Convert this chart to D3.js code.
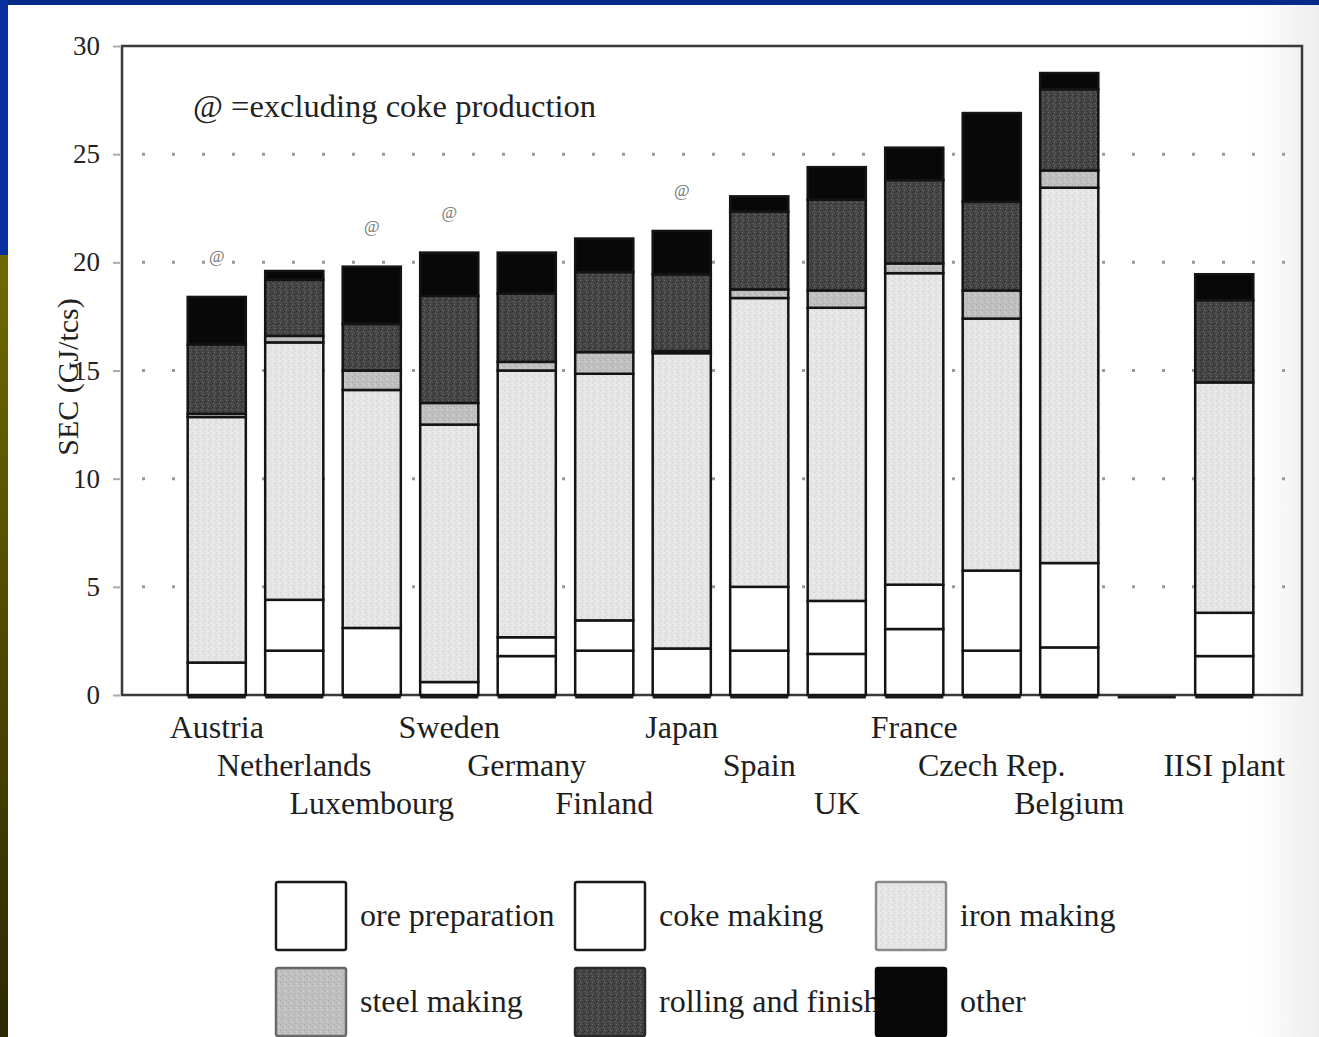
<!DOCTYPE html>
<html>
<head>
<meta charset="utf-8">
<script src="https://cdn.jsdelivr.net/npm/d3@7/dist/d3.min.js"></script>
<style>
  html, body { margin: 0; padding: 0; background: #ffffff; }
  svg { display: block; }
  text { font-family: "Liberation Serif", "DejaVu Serif", serif; }
</style>
</head>
<body>
<svg id="chart" width="1319" height="1037"></svg>
<script>
// Specific energy consumption per tonne of crude steel, by process stage (GJ/tcs)
const categories = ["Austria", "Netherlands", "Luxembourg", "Sweden", "Germany", "Finland",
  "Japan", "Spain", "UK", "France", "Czech Rep.", "Belgium", "", "IISI plant"];

const orePreparation   = [1.5, 2.05, 3.1, 0.6, 1.8, 2.05, 2.15, 2.05, 1.9, 3.05, 2.05, 2.2, 0, 1.8];
const cokeMaking       = [0, 2.35, 0, 0, 0.87, 1.4, 0, 2.95, 2.45, 2.05, 3.7, 3.9, 0, 2.0];
const ironMaking       = [11.35, 11.9, 11.0, 11.9, 12.33, 11.4, 13.65, 13.35, 13.55, 14.4, 11.65, 17.35, 0, 10.65];
const steelMaking      = [0.15, 0.3, 0.9, 1.0, 0.4, 1.0, 0.1, 0.4, 0.8, 0.45, 1.3, 0.8, 0, 0];
const rollingFinishing = [3.2, 2.6, 2.15, 4.95, 3.15, 3.7, 3.55, 3.6, 4.2, 3.85, 4.1, 3.75, 0, 3.8];
const otherUse         = [2.2, 0.4, 2.65, 2.0, 1.9, 1.55, 2.0, 0.7, 1.5, 1.5, 4.1, 0.75, 0, 1.2];

// Plants whose figure leaves out coke production
const excludesCoke = ["Austria", "Luxembourg", "Sweden", "Japan"];

const seriesNames = ["ore preparation", "coke making", "iron making",
  "steel making", "rolling and finishing", "other"];
const seriesKeys = ["ore", "coke", "iron", "steel", "rolling", "other"];
const yTicks = [0, 5, 10, 15, 20, 25, 30];
const gridTicks = [5, 10, 15, 20, 25];

const rows = categories.map((c, i) => ({
  idx: i, name: c,
  ore: orePreparation[i], coke: cokeMaking[i], iron: ironMaking[i],
  steel: steelMaking[i], rolling: rollingFinishing[i], other: otherUse[i]
}));

const svg = d3.select("#chart");
const W = 1319, H = 1037;

// ---- slide frame ----
const defs = svg.append("defs");
const olive = defs.append("linearGradient").attr("id", "oliveStrip")
  .attr("x1", 0).attr("y1", 0).attr("x2", 0).attr("y2", 1);
olive.append("stop").attr("offset", "0%").attr("stop-color", "#6f6a00");
olive.append("stop").attr("offset", "100%").attr("stop-color", "#2c2800");

const haze = defs.append("linearGradient").attr("id", "edgeHaze")
  .attr("x1", 0).attr("y1", 0).attr("x2", 1).attr("y2", 0);
haze.append("stop").attr("offset", "0%").attr("stop-color", "#e6e6e6").attr("stop-opacity", 0);
haze.append("stop").attr("offset", "100%").attr("stop-color", "#e2e2e2").attr("stop-opacity", 0.6);

// textures for the shaded stages
function texture(id, base, dots) {
  const p = defs.append("pattern").attr("id", id).attr("patternUnits", "userSpaceOnUse")
    .attr("width", 6).attr("height", 6);
  p.append("rect").attr("width", 6).attr("height", 6).attr("fill", base);
  dots.forEach(d => p.append("rect").attr("x", d[0]).attr("y", d[1])
    .attr("width", d[2] || 1).attr("height", d[3] || 1).attr("fill", d[4]));
}
texture("ironTex", "#e6e6e6", [[0,0,1,1,"#d0d0d0"],[3,1,1,1,"#f5f5f5"],[1,3,1,1,"#d6d6d6"],[4,4,1,1,"#cdcdcd"],[2,5,1,1,"#f2f2f2"],[5,2,1,1,"#d8d8d8"]]);
texture("steelTex", "#c0c0c0", [[0,0,1,1,"#a6a6a6"],[3,1,1,1,"#d6d6d6"],[1,3,1,1,"#acacac"],[4,4,1,1,"#a2a2a2"],[2,5,1,1,"#d2d2d2"]]);
texture("rollTex", "#464646", [[0,0,1,1,"#262626"],[3,1,1,1,"#666666"],[1,3,1,1,"#2e2e2e"],[4,4,1,1,"#707070"],[2,5,1,1,"#242424"],[5,2,1,1,"#585858"]]);

svg.append("rect").attr("width", W).attr("height", H).attr("fill", "#ffffff");
svg.append("rect").attr("x", 1250).attr("y", 0).attr("width", W - 1250).attr("height", H).attr("fill", "url(#edgeHaze)");
svg.append("rect").attr("x", 0).attr("y", 0).attr("width", W).attr("height", 5).attr("fill", "#062a88");
svg.append("rect").attr("x", 0).attr("y", 0).attr("width", 8).attr("height", 255).attr("fill", "#0830a0");
svg.append("rect").attr("x", 0).attr("y", 255).attr("width", 8).attr("height", H - 255).attr("fill", "url(#oliveStrip)");

// ---- scales ----
const plot = { left: 122, top: 46, right: 1302, bottom: 695 };
const y = d3.scaleLinear().domain([0, 30]).range([plot.bottom, plot.top]);
const x = d3.scaleBand().domain(rows.map(r => r.idx)).range([178, 1263])
  .paddingInner(0.25).paddingOuter(0.125);

const fills = {
  ore: "#ffffff", coke: "#ffffff", iron: "url(#ironTex)",
  steel: "url(#steelTex)", rolling: "url(#rollTex)", other: "#080808"
};

// dotted grid lines
svg.append("g").selectAll("line").data(gridTicks).join("line")
  .attr("x1", plot.left + 20).attr("x2", plot.right - 4)
  .attr("y1", d => y(d)).attr("y2", d => y(d))
  .attr("stroke", "#9a9a9a").attr("stroke-width", 3)
  .attr("stroke-dasharray", "3,27");

// plot frame
svg.append("rect").attr("x", plot.left).attr("y", plot.top)
  .attr("width", plot.right - plot.left).attr("height", plot.bottom - plot.top)
  .attr("fill", "none").attr("stroke", "#3a3a3a").attr("stroke-width", 2.5);

// y axis
const yAxis = d3.axisLeft(y).tickValues(yTicks).tickSize(7).tickPadding(13);
const ax = svg.append("g").attr("transform", `translate(${plot.left - 2},0)`).call(yAxis);
ax.select(".domain").remove();
ax.selectAll(".tick line").attr("stroke", "#aaaaaa").attr("stroke-width", 2);
ax.selectAll(".tick text").attr("font-family", "Liberation Serif, serif")
  .attr("font-size", 27).attr("fill", "#222222");

svg.append("text")
  .attr("transform", "translate(78,377) rotate(-90)")
  .attr("text-anchor", "middle").attr("font-size", 30).attr("fill", "#222222")
  .text("SEC (GJ/tcs)");

// ---- stacked bars ----
const stack = d3.stack().keys(seriesKeys);
const stacked = stack(rows);

const barG = svg.append("g");
stacked.forEach(layer => {
  barG.append("g").selectAll("rect")
    .data(layer.filter(d => d[1] - d[0] > 0))
    .join("rect")
    .attr("x", d => x(d.data.idx))
    .attr("width", x.bandwidth())
    .attr("y", d => y(d[1]))
    .attr("height", d => y(d[0]) - y(d[1]))
    .attr("fill", fills[layer.key])
    .attr("stroke", "#141414").attr("stroke-width", 2.5);
});

// base strokes for every slot (including the empty one)
svg.append("g").selectAll("line").data(rows).join("line")
  .attr("x1", d => x(d.idx)).attr("x2", d => x(d.idx) + x.bandwidth())
  .attr("y1", y(0) + 2).attr("y2", y(0) + 2)
  .attr("stroke", "#1a1a1a").attr("stroke-width", 3);

// "@" marks above the plants excluding coke production
const totals = rows.map(r => seriesKeys.reduce((s, k) => s + r[k], 0));
svg.append("g").selectAll("text")
  .data(rows.filter(r => excludesCoke.includes(r.name)))
  .join("text")
  .attr("x", d => x(d.idx) + x.bandwidth() / 2)
  .attr("y", d => y(totals[d.idx]) - 35)
  .attr("text-anchor", "middle").attr("font-size", 17).attr("fill", "#777777")
  .text("@");

svg.append("text").attr("x", 193).attr("y", 117)
  .attr("font-size", 32.5).attr("fill", "#222222")
  .text("@ =excluding coke production");

// category labels, staggered over three rows
const rowBase = [738, 776, 814];
svg.append("g").selectAll("text").data(rows).join("text")
  .attr("x", d => x(d.idx) + x.bandwidth() / 2)
  .attr("y", d => rowBase[d.idx % 3])
  .attr("text-anchor", "middle").attr("font-size", 32).attr("fill", "#1e1e1e")
  .text(d => d.name);

// ---- legend ----
const legX = [276, 575, 876];
const legY = [882, 968];
const swStroke = ["#1a1a1a", "#1a1a1a", "#8a8a8a", "#6a6a6a", "#2a2a2a", "#080808"];
const legend = svg.append("g");
const items = seriesKeys.map((k, i) => ({ key: k, name: seriesNames[i], col: i % 3, row: Math.floor(i / 3), i }));
// labels first so that a neighbouring swatch sits on top of long text
legend.selectAll("text").data(items).join("text")
  .attr("x", d => legX[d.col] + 84)
  .attr("y", d => legY[d.row] + 44)
  .attr("font-size", 32).attr("fill", "#1e1e1e")
  .text(d => d.name);
legend.selectAll("rect").data(items).join("rect")
  .attr("x", d => legX[d.col]).attr("y", d => legY[d.row])
  .attr("width", 70).attr("height", 68)
  .attr("rx", 2)
  .attr("fill", d => fills[d.key])
  .attr("stroke", d => swStroke[d.i]).attr("stroke-width", 2.5);
</script>
</body>
</html>
